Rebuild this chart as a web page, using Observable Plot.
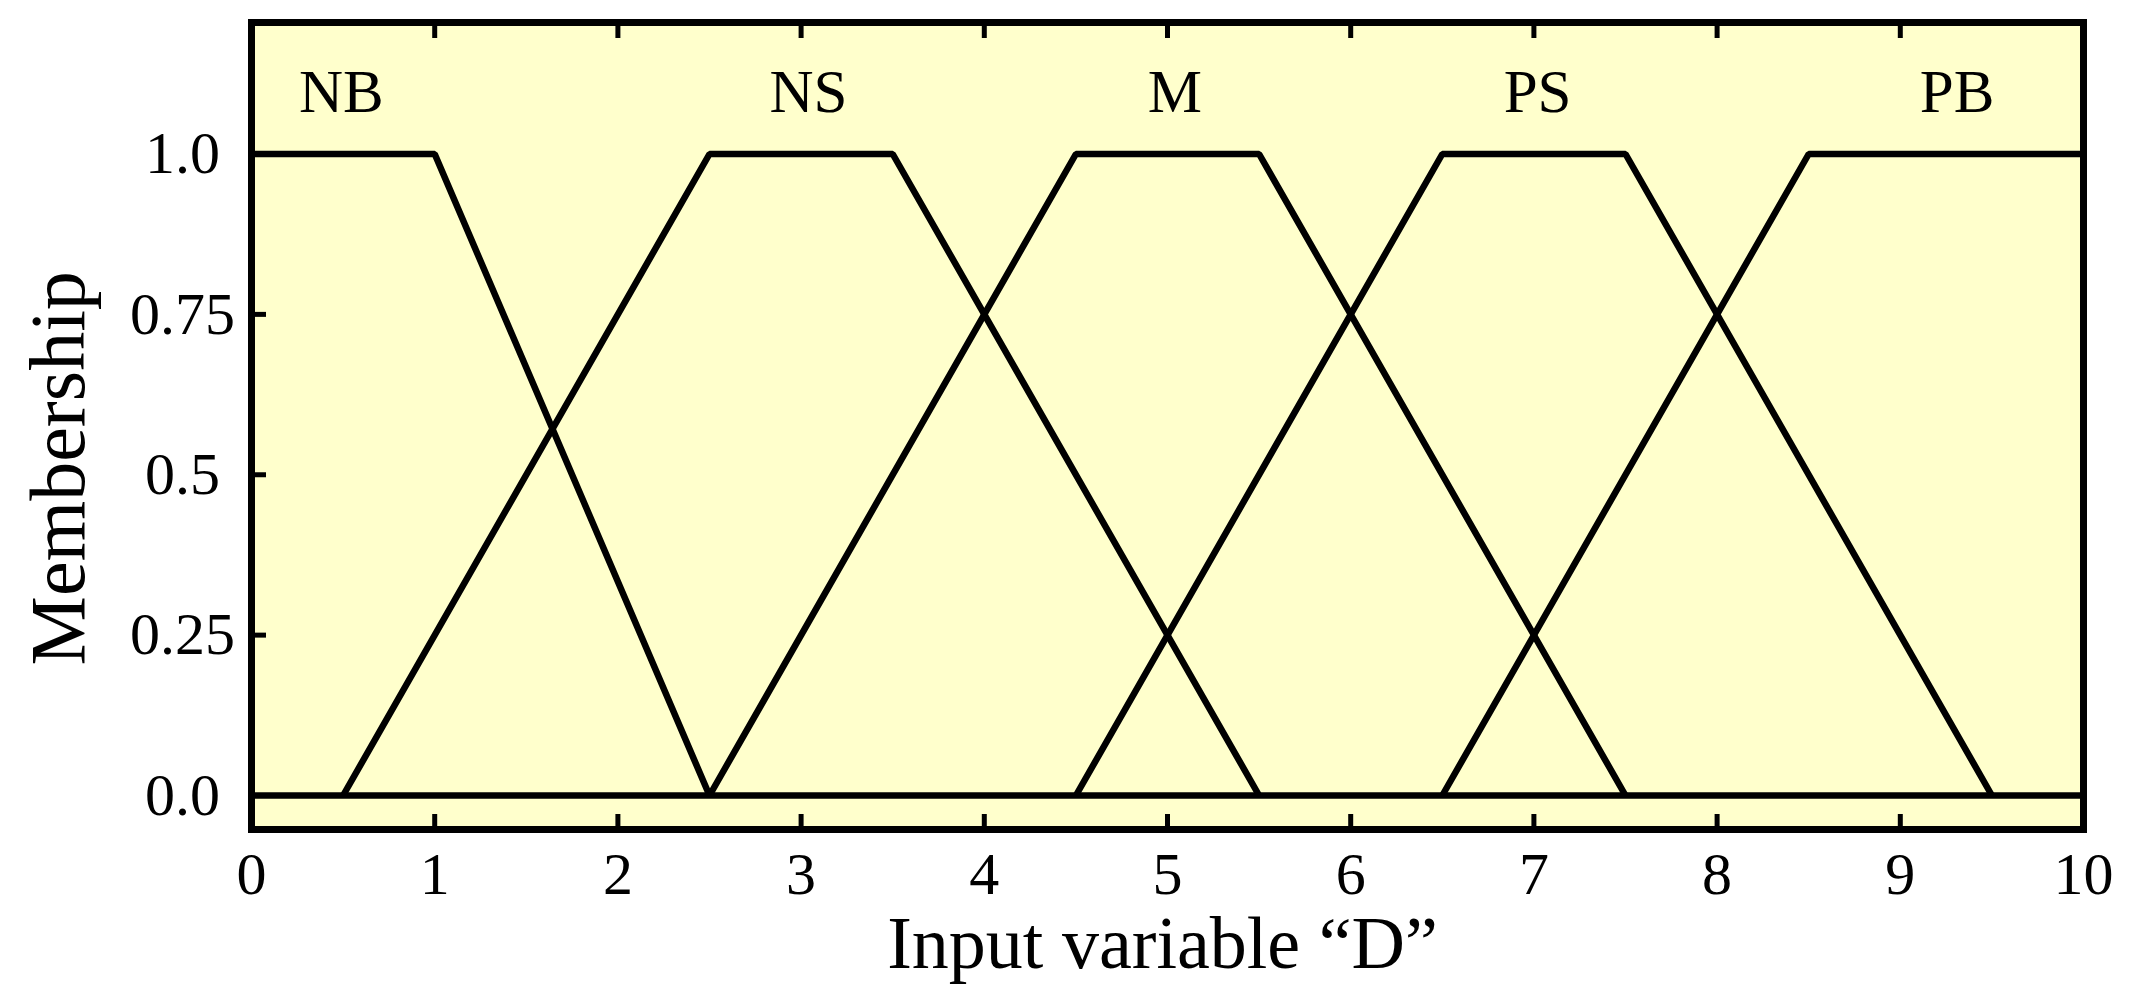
<!DOCTYPE html>
<html>
<head>
<meta charset="utf-8">
<script src="https://cdn.jsdelivr.net/npm/d3@7"></script>
<script src="https://cdn.jsdelivr.net/npm/@observablehq/plot@0.6"></script>
<style>
  html, body { margin: 0; padding: 0; background: #ffffff; }
  #chart svg { display: block; }
</style>
</head>
<body>
<div id="chart"></div>
<script>
// Membership function names and breakpoints (input variable "D")
const mfNames = ["NB", "NS", "M", "PS", "PB"];
const mfX = [
  [0, 1, 2.5],
  [0.5, 2.5, 3.5, 5.5],
  [2.5, 4.5, 5.5, 7.5],
  [4.5, 6.5, 7.5, 9.5],
  [6.5, 8.5, 10]
];
const mfY = [
  [1, 1, 0],
  [0, 1, 1, 0],
  [0, 1, 1, 0],
  [0, 1, 1, 0],
  [0, 1, 1]
];
// label positions (data coordinates)
const labelX = [0.49, 3.04, 5.04, 7.02, 9.31];
const labelY = [1.065, 1.065, 1.065, 1.065, 1.065];

const xTicks = [0, 1, 2, 3, 4, 5, 6, 7, 8, 9, 10];
const yTicks = [0, 0.25, 0.5, 0.75, 1];
const yTickLabels = ["0.0", "0.25", "0.5", "0.75", "1.0"];
const xTitle = "Input variable “D”";
const yTitle = "Membership";

const lineData = mfNames.flatMap((name, i) =>
  mfX[i].map((x, j) => ({mf: name, x, y: mfY[i][j]}))
);
const labelData = mfNames.map((name, i) => ({name, x: labelX[i], y: labelY[i]}));

const serif = "'Liberation Serif', 'Times New Roman', Times, serif";
const W = 2136, H = 996, mL = 251, mR = 53, mT = 22, mB = 167;
const xDomain = [0, 10], yDomain = [-0.053, 1.205];
const lw = 6.5;
// pixel <-> data helpers matching the Plot scales (used only for inner tick lengths)
const xs = d3.scaleLinear(xDomain, [mL, W - mR]);
const ys = d3.scaleLinear(yDomain, [H - mB, mT]);
const tickBottomEnd = ys.invert(H - mB - 15);
const tickTopEnd = ys.invert(mT + 16);
const tickLeftEnd = xs.invert(mL + 15);

const chart = Plot.plot({
  width: W,
  height: H,
  marginLeft: mL,
  marginRight: mR,
  marginTop: mT,
  marginBottom: mB,
  x: {domain: xDomain},
  y: {domain: yDomain},
  style: {fontFamily: serif, background: "#ffffff", color: "#000000"},
  marks: [
    Plot.frame({fill: "#FFFFCC"}),
    Plot.ruleY([0], {stroke: "#000", strokeWidth: lw}),
    Plot.line(lineData, {x: "x", y: "y", z: "mf", stroke: "#000", strokeWidth: lw, strokeLinejoin: "miter", strokeLinecap: "butt"}),
    // inner ticks
    Plot.ruleX(xTicks, {x: d => d, y1: d => yDomain[0], y2: d => tickBottomEnd, stroke: "#000", strokeWidth: 5}),
    Plot.ruleX(xTicks, {x: d => d, y1: d => yDomain[1], y2: d => tickTopEnd, stroke: "#000", strokeWidth: 5}),
    Plot.ruleY(yTicks, {y: d => d, x1: d => xDomain[0], x2: d => tickLeftEnd, stroke: "#000", strokeWidth: 5}),
    // tick labels
    Plot.axisX({anchor: "bottom", ticks: xTicks, tickSize: 0, tickPadding: 22, fontSize: 60, fontFamily: serif, tickFormat: d => String(d), label: null}),
    Plot.axisY({anchor: "left", ticks: yTicks, tickSize: 0, tickPadding: 69, textAnchor: "middle", fontSize: 60, fontFamily: serif,
      tickFormat: d => yTickLabels[yTicks.indexOf(d)], label: null}),
    Plot.frame({stroke: "#000", strokeWidth: 7}),
    // MF labels
    Plot.text(labelData, {x: "x", y: "y", text: "name", fontSize: 61, fontFamily: serif, lineAnchor: "bottom", fill: "#000"}),
    // axis titles
    Plot.text([xTitle], {x: null, y: null, text: d => d, frameAnchor: "bottom", textAnchor: "middle", dx: -5, dy: 138, lineAnchor: "bottom", fontSize: 74, fontFamily: serif, fill: "#000"}),
    Plot.text([yTitle], {x: null, y: () => 0.51, text: d => d, frameAnchor: "left", textAnchor: "middle", rotate: -90, dx: -168, lineAnchor: "bottom", fontSize: 78, fontFamily: serif, fill: "#000"})
  ]
});
document.getElementById("chart").appendChild(chart);
</script>
</body>
</html>
